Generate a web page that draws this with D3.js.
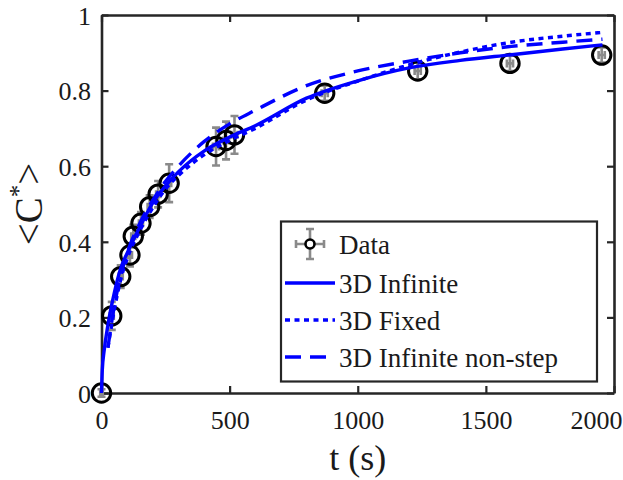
<!DOCTYPE html>
<html>
<head>
<meta charset="utf-8">
<script src="https://cdn.jsdelivr.net/npm/d3@7"></script>
<style>
  html, body { margin: 0; padding: 0; background: #fff; }
  svg { display: block; }
</style>
</head>
<body>
<svg id="chart" width="623" height="480"></svg>
<script>
// Measured mean concentration <C*> over time
const tData = [0, 40, 75, 111, 124, 154, 188, 221, 264, 447, 486, 519, 871, 1234, 1594, 1952];
const cData = [0, 0.204, 0.308, 0.365, 0.415, 0.449, 0.493, 0.526, 0.555, 0.652, 0.668, 0.683, 0.793, 0.852, 0.872, 0.894];
const cErr  = [0.01, 0.037, 0.03, 0.03, 0.03, 0.03, 0.03, 0.035, 0.05, 0.05, 0.05, 0.05, 0.02, 0.022, 0.02, 0.02];
const tErr  = [5, 8, 8, 8, 8, 8, 8, 8, 8, 12, 12, 12, 12, 12, 12, 12];

// Model curves
const tInfinite = [0, 3, 10, 25, 50, 75, 100, 150, 200, 250, 300, 400, 500, 600, 800, 1000, 1200, 1400, 1600, 1800, 1955];
const cInfinite = [0, 0.06, 0.11, 0.18, 0.265, 0.33, 0.37, 0.44, 0.503, 0.548, 0.585, 0.64, 0.677, 0.707, 0.78, 0.826, 0.86, 0.88, 0.895, 0.91, 0.921];

const tModel = [25, 50, 75, 100, 150, 200, 250, 300, 400, 500, 600, 800, 1000, 1200, 1400, 1600, 1800, 1955];
const cFixed   = [0.12, 0.22, 0.30, 0.355, 0.43, 0.49, 0.54, 0.575, 0.63, 0.668, 0.70, 0.775, 0.825, 0.868, 0.902, 0.928, 0.944, 0.954];
const cNonStep = [0.12, 0.23, 0.31, 0.37, 0.45, 0.51, 0.56, 0.60, 0.665, 0.712, 0.748, 0.813, 0.852, 0.878, 0.90, 0.917, 0.928, 0.936];

const xTicks = [0, 500, 1000, 1500, 2000];
const yTicks = [0, 0.2, 0.4, 0.6, 0.8, 1];
const seriesNames = ["Data", "3D Infinite", "3D Fixed", "3D Infinite non-step"];

const FONT = '"Liberation Serif", "Times New Roman", "Liberation Sans", Arial, sans-serif';

const svg = d3.select("#chart").style("font-family", FONT);
const W = 623, H = 480;
const plotL = 101.5, plotR = 614, plotT = 15, plotB = 393;

svg.append("rect").attr("width", W).attr("height", H).attr("fill", "#fff");

const x = d3.scaleLinear().domain([0, 2000]).range([plotL, plotR]);
const y = d3.scaleLinear().domain([0, 1]).range([plotB, plotT]);

const axisColor = "#262626";
const textColor = "#1a1a1a";
const fmtY = d => d === 0 ? "0" : d === 1 ? "1" : d3.format(".1f")(d);

function styleAxis(g, fontSize) {
  g.attr("font-family", null);
  g.select(".domain").attr("stroke", axisColor).attr("stroke-width", 2.6);
  g.selectAll(".tick line").attr("stroke", axisColor).attr("stroke-width", 2.2);
  g.selectAll(".tick text")
    .style("font-family", FONT)
    .attr("font-size", fontSize)
    .attr("fill", textColor);
}

// Bottom axis
const gx = svg.append("g").attr("transform", `translate(0,${plotB})`)
  .call(d3.axisBottom(x).tickValues(xTicks).tickFormat(d3.format("d"))
    .tickSizeInner(-7).tickSizeOuter(0).tickPadding(17.5));
styleAxis(gx, 26);
// the last label is kept inside the figure edge
gx.selectAll(".tick text").filter(d => d === 2000)
  .attr("text-anchor", "end").attr("x", 8);

// Left axis
const gy = svg.append("g").attr("transform", `translate(${plotL},0)`)
  .call(d3.axisLeft(y).tickValues(yTicks).tickFormat(fmtY)
    .tickSizeInner(-7).tickSizeOuter(0).tickPadding(10.5));
styleAxis(gy, 26);
gy.selectAll(".tick text").attr("dy", "0.36em");

// Top and right axes (box with mirrored ticks)
const gxt = svg.append("g").attr("transform", `translate(0,${plotT})`)
  .call(d3.axisTop(x).tickValues(xTicks).tickFormat("").tickSizeInner(-7).tickSizeOuter(0));
styleAxis(gxt, 26);
const gyr = svg.append("g").attr("transform", `translate(${plotR},0)`)
  .call(d3.axisRight(y).tickValues(yTicks).tickFormat("").tickSizeInner(-7).tickSizeOuter(0));
styleAxis(gyr, 26);

// Axis titles
svg.append("text")
  .attr("x", (plotL + plotR) / 2).attr("y", 470)
  .attr("text-anchor", "middle").attr("font-size", 36).attr("fill", textColor)
  .style("font-family", FONT)
  .text("t (s)");

const yl = svg.append("text")
  .attr("transform", `translate(42,${(plotT + plotB) / 2}) rotate(-90)`)
  .attr("text-anchor", "middle").attr("font-size", 39).attr("fill", textColor)
  .style("font-family", FONT);
yl.append("tspan").text("<C");
yl.append("tspan").attr("font-size", 25).attr("dy", -15).text("*");
yl.append("tspan").attr("dy", 15).text(">");

// Data: error bars then open circles
const grey = "#8a8a8a";
const capV = 4, capH = 4;
const data = tData.map((t, i) => ({ t, c: cData[i], ec: cErr[i], et: tErr[i] }));

const eb = svg.append("g").attr("stroke", grey).attr("stroke-width", 2.6).attr("fill", "none");
data.forEach(d => {
  const cx = x(d.t), cy = y(d.c);
  const y1 = y(d.c + d.ec), y0 = y(d.c - d.ec);
  const x0 = x(d.t - d.et), x1 = x(d.t + d.et);
  eb.append("path").attr("d",
    `M${cx},${y0}V${y1}` +
    `M${cx - capV},${y1}H${cx + capV}` +
    `M${cx - capV},${y0}H${cx + capV}` +
    `M${x0},${cy}H${x1}` +
    `M${x0},${cy - capH}V${cy + capH}` +
    `M${x1},${cy - capH}V${cy + capH}`);
});

svg.append("g").selectAll("circle").data(data).join("circle")
  .attr("cx", d => x(d.t)).attr("cy", d => y(d.c)).attr("r", 9.2)
  .attr("fill", "none").attr("stroke", "#000").attr("stroke-width", 3);

// Model curves
const blue = "#0000ff";
const line = d3.line().x(d => x(d[0])).y(d => y(d[1])).curve(d3.curveMonotoneX);
const styles = [
  { name: seriesNames[1], t: tInfinite, c: cInfinite, dash: null },
  { name: seriesNames[2], t: tModel, c: cFixed, dash: "5,4.5" },
  { name: seriesNames[3], t: tModel, c: cNonStep, dash: "16,9" }
];
styles.forEach(s => {
  svg.append("path")
    .datum(s.t.map((t, i) => [t, s.c[i]]))
    .attr("d", line)
    .attr("fill", "none").attr("stroke", blue).attr("stroke-width", 3.4)
    .attr("stroke-dasharray", s.dash);
});

// Legend
const lg = svg.append("g");
lg.append("rect").attr("x", 281).attr("y", 221.5).attr("width", 316).attr("height", 160)
  .attr("fill", "#fff").attr("stroke", axisColor).attr("stroke-width", 2.2);
const rowY = [244, 283, 320, 357];
const sx0 = 285, sx1 = 335, sxm = 310, tx = 339;

// data entry symbol
const my = rowY[0];
lg.append("path").attr("stroke", grey).attr("stroke-width", 2.6).attr("fill", "none")
  .attr("d",
    `M${sxm},${my - 15}V${my + 15}` +
    `M${sxm - 4},${my - 15}H${sxm + 4}M${sxm - 4},${my + 15}H${sxm + 4}` +
    `M${sxm - 14},${my}H${sxm + 14}` +
    `M${sxm - 14},${my - 4}V${my + 4}M${sxm + 14},${my - 4}V${my + 4}`);
lg.append("circle").attr("cx", sxm).attr("cy", my).attr("r", 4.5)
  .attr("fill", "#fff").attr("stroke", "#000").attr("stroke-width", 2.6);

styles.forEach((s, i) => {
  lg.append("line").attr("x1", sx0).attr("x2", sx1)
    .attr("y1", rowY[i + 1]).attr("y2", rowY[i + 1])
    .attr("stroke", blue).attr("stroke-width", 3.6).attr("stroke-dasharray", s.dash);
});

lg.selectAll("text.lab").data(seriesNames).join("text").attr("class", "lab")
  .attr("x", tx).attr("y", (d, i) => rowY[i]).attr("dy", "0.36em")
  .attr("font-size", 27).attr("fill", textColor).style("font-family", FONT)
  .text(d => d);
</script>
</body>
</html>
